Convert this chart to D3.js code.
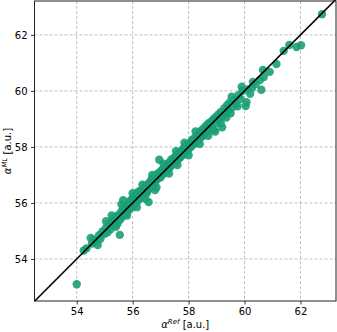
<!DOCTYPE html>
<html>
<head>
<meta charset="utf-8">
<script src="https://cdn.jsdelivr.net/npm/d3@7"></script>
<style>
  body { margin: 0; background: #fff; }
  text { font-family: "DejaVu Sans", sans-serif; }
  .grid line { stroke: #b0b0b0; stroke-width: 0.8; stroke-dasharray: 3,2; }
</style>
</head>
<body>
<div id="chart"></div>
<script>
// reference values (x) and ML predictions (y)
var refVals = [
  54.00, 54.25, 54.35, 54.55, 54.62, 54.70, 54.80, 54.85, 54.92, 55.00,
  55.05, 55.10, 55.15, 55.20, 55.25, 55.30, 55.32, 55.38, 55.42, 55.45,
  55.50, 55.54, 55.55, 55.60, 55.62, 55.66, 55.68, 55.70, 55.75, 55.78,
  55.82, 55.85, 55.88, 55.90, 55.95, 55.98, 56.00, 56.02, 56.05, 56.08,
  56.10, 56.12, 56.15, 56.18, 56.20, 56.22, 56.25, 56.28, 56.30, 56.32,
  56.35, 56.38, 56.40, 56.42, 56.45, 56.48, 56.50, 56.52, 56.55, 56.57,
  56.58, 56.60, 56.62, 56.65, 56.68, 56.70, 56.72, 56.75, 56.78, 56.80,
  56.80, 56.82, 56.85, 56.88, 56.90, 56.92, 56.95, 56.95, 56.98, 57.00,
  57.02, 57.05, 57.08, 57.10, 57.12, 57.15, 57.18, 57.20, 57.22, 57.25,
  57.28, 57.30, 57.32, 57.35, 57.38, 57.40, 57.42, 57.45, 57.48, 57.50,
  57.52, 57.55, 57.58, 57.60, 57.62, 57.65, 57.68, 57.70, 57.72, 57.75,
  57.78, 57.80, 57.82, 57.85, 57.88, 57.90, 57.92, 57.95, 57.98, 58.00,
  58.05, 58.08, 58.12, 58.15, 58.20, 58.22, 58.28, 58.30, 58.35, 58.38,
  58.42, 58.45, 58.50, 58.52, 58.58, 58.60, 58.65, 58.68, 58.72, 58.75,
  58.80, 58.82, 58.88, 58.90, 58.95, 59.00, 59.05, 59.10, 59.15, 59.20,
  59.22, 59.28, 59.32, 59.38, 59.42, 59.48, 59.54, 59.55, 59.62, 59.70,
  59.78, 59.85, 59.92, 60.04, 60.07, 60.10, 60.27, 60.30, 60.40, 60.55,
  60.60, 60.66, 60.69, 60.90, 61.14, 61.40, 61.60, 61.86, 62.02, 62.77,
  54.50, 54.75, 55.05, 55.25, 55.40, 55.60, 55.80, 56.00, 56.15, 56.35,
  56.45, 56.70, 56.85, 57.10, 57.30, 57.55, 57.60, 57.85, 58.00, 58.25,
  58.40, 58.70, 58.95, 59.15, 59.35, 59.50, 59.75, 59.90, 60.20
];
var mlVals = [
  53.10, 54.30, 54.38, 54.55, 54.70, 54.62, 54.85, 54.72, 54.98, 54.90,
  55.12, 54.95, 55.25, 55.05, 55.35, 55.20, 55.45, 55.30, 55.50, 55.25,
  55.58, 54.86, 55.40, 55.70, 55.50, 56.10, 55.80, 55.60, 55.85, 55.65,
  55.95, 55.75, 56.05, 55.80, 55.92, 56.15, 55.85, 56.08, 56.20, 55.95,
  56.10, 56.30, 56.05, 56.22, 56.40, 56.12, 56.30, 56.18, 56.45, 56.25,
  56.38, 56.50, 56.30, 56.60, 56.40, 56.55, 56.35, 56.65, 56.45, 56.03,
  56.70, 56.52, 56.75, 56.58, 56.85, 56.62, 56.80, 56.90, 56.70, 56.95,
  56.46, 56.78, 57.00, 56.85, 57.05, 56.88, 57.54, 57.00, 57.10, 56.92,
  57.15, 57.00, 57.20, 57.05, 57.25, 57.10, 57.30, 57.12, 57.35, 57.20,
  57.40, 57.25, 57.45, 57.30, 57.55, 57.35, 57.50, 57.40, 57.60, 57.42,
  57.65, 57.50, 57.70, 57.52, 57.75, 57.60, 57.78, 57.62, 57.85, 57.70,
  57.88, 57.72, 57.95, 57.80, 58.00, 57.82, 58.05, 57.88, 58.10, 57.92,
  58.15, 58.00, 58.25, 58.08, 58.30, 58.12, 58.38, 58.20, 58.45, 58.28,
  58.55, 58.35, 58.62, 58.40, 58.70, 58.48, 58.78, 58.55, 58.85, 58.62,
  58.90, 58.70, 58.98, 58.60, 59.05, 58.85, 59.15, 58.95, 59.25, 58.70,
  59.10, 59.38, 59.20, 59.50, 59.30, 59.60, 59.79, 59.40, 59.68, 59.55,
  59.85, 59.72, 60.00, 59.46, 59.60, 60.05, 60.11, 60.32, 60.25, 60.39,
  60.04, 60.75, 60.50, 60.68, 60.96, 61.43, 61.64, 61.57, 61.63, 62.74,
  54.75, 54.50, 55.35, 55.55, 55.15, 55.95, 55.55, 56.35, 55.85, 56.65,
  56.15, 57.00, 56.55, 57.40, 57.05, 57.85, 57.35, 58.15, 57.70, 58.55,
  58.10, 58.40, 58.55, 58.85, 59.05, 59.20, 59.45, 60.15, 59.90
];
var tickVals = [54, 56, 58, 60, 62];

var svgWidth = 337;
var svgHeight = 332;
var margin = { top: 1, right: 1, bottom: 31, left: 34.5 };
var width = svgWidth - margin.left - margin.right;
var height = svgHeight - margin.top - margin.bottom;

var svg = d3.select("#chart")
  .append("svg")
  .attr("width", svgWidth)
  .attr("height", svgHeight);

var chartGroup = svg.append("g")
  .attr("transform", `translate(${margin.left}, ${margin.top})`);

var xScale = d3.scaleLinear().domain([52.49, 63.27]).range([0, width]);
var yScale = d3.scaleLinear().domain([52.5, 63.21]).range([height, 0]);

// grid
chartGroup.append("g")
  .attr("class", "grid")
  .selectAll("line.gx")
  .data(tickVals)
  .enter()
  .append("line")
  .attr("x1", d => xScale(d))
  .attr("x2", d => xScale(d))
  .attr("y1", 0)
  .attr("y2", height);

chartGroup.append("g")
  .attr("class", "grid")
  .selectAll("line.gy")
  .data(tickVals)
  .enter()
  .append("line")
  .attr("x1", 0)
  .attr("x2", width)
  .attr("y1", d => yScale(d))
  .attr("y2", d => yScale(d));

// points
var points = refVals.map((r, i) => ({ ref: r, ml: mlVals[i] }));

chartGroup.append("g")
  .selectAll("circle")
  .data(points)
  .enter()
  .append("circle")
  .attr("cx", d => xScale(d.ref))
  .attr("cy", d => yScale(d.ml))
  .attr("r", 4.2)
  .attr("fill", "#1b9e77")
  .attr("opacity", 0.9);

// identity line
chartGroup.append("line")
  .attr("x1", xScale(52.49))
  .attr("y1", yScale(52.49))
  .attr("x2", xScale(63.27))
  .attr("y2", yScale(63.27))
  .attr("stroke", "#000")
  .attr("stroke-width", 1.6);

// axes
var bottomAxis = d3.axisBottom(xScale).tickValues(tickVals).tickSizeInner(3.5).tickSizeOuter(0).tickPadding(3.5);
var leftAxis = d3.axisLeft(yScale).tickValues(tickVals).tickSizeInner(3.5).tickSizeOuter(0).tickPadding(3.5);

var xAxis = chartGroup.append("g")
  .attr("transform", `translate(0, ${height})`)
  .call(bottomAxis);
var yAxis = chartGroup.append("g").call(leftAxis);

[xAxis, yAxis].forEach(function(ax) {
  ax.select(".domain").remove();
  ax.selectAll("text").attr("font-size", "10px").attr("fill", "#000")
    .attr("font-family", "DejaVu Sans, sans-serif");
  ax.selectAll("line").attr("stroke", "#000").attr("stroke-width", 0.8);
});

// frame
chartGroup.append("rect")
  .attr("x", 0)
  .attr("y", 0)
  .attr("width", width)
  .attr("height", height)
  .attr("fill", "none")
  .attr("stroke", "#222")
  .attr("stroke-width", 1);

// axis labels
var xLabel = svg.append("text")
  .attr("x", margin.left + width / 2)
  .attr("y", 328)
  .attr("text-anchor", "middle")
  .attr("font-size", "10px");
xLabel.append("tspan").attr("font-style", "italic").text("α");
xLabel.append("tspan").attr("font-style", "italic").attr("font-size", "7px").attr("dy", "-4").text("Ref");
xLabel.append("tspan").attr("dy", "4").text(" [a.u.]");

var yLabel = svg.append("text")
  .attr("transform", `translate(11, ${margin.top + height / 2}) rotate(-90)`)
  .attr("text-anchor", "middle")
  .attr("font-size", "10px");
yLabel.append("tspan").attr("font-style", "italic").text("α");
yLabel.append("tspan").attr("font-style", "italic").attr("font-size", "7px").attr("dy", "-4").text("ML");
yLabel.append("tspan").attr("dy", "4").text(" [a.u.]");
</script>
</body>
</html>
